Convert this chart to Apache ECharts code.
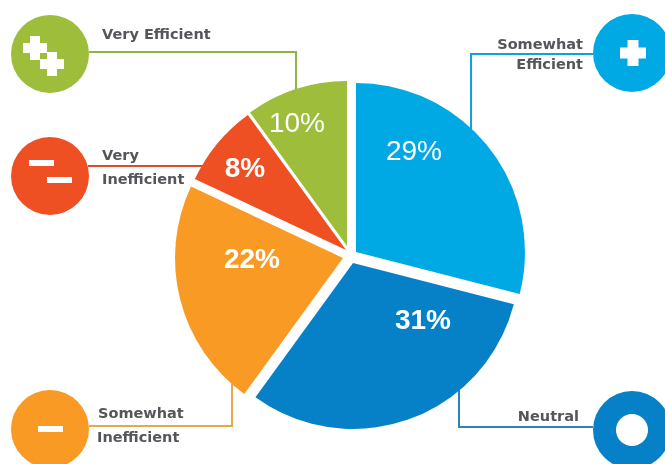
<!DOCTYPE html>
<html>
<head>
<meta charset="utf-8">
<style>html,body{margin:0;padding:0;background:#fff}#chart{width:665px;height:464px}</style>
<script src="https://cdn.jsdelivr.net/npm/echarts@6/dist/echarts.min.js"></script>
</head>
<body>
<div id="chart"></div>
<script>
// Efficiency ratings, clockwise from twelve o'clock
const categories = ['Somewhat Efficient', 'Neutral', 'Somewhat Inefficient', 'Very Inefficient', 'Very Efficient'];
const shares = [29, 31, 22, 8, 10];
const sliceColors = ['#00A9E4', '#0681C8', '#F89A24', '#EE4F23', '#9DBD3B'];

// Each wedge is pulled slightly away from the middle of the pie
const wedgeCenters = [[356, 252], [353, 263], [343, 258], [346, 250], [347, 246]];
const wedgeRadii = [169, 166, 168, 167, 165];
const valueLabelSpots = [[414, 152], [423, 321], [252, 260], [245, 169], [297, 124]];
const valueLabelWeights = ['normal', 'bold', 'bold', 'bold', 'normal'];

const textFont = '"DejaVu Sans", sans-serif';
const inkColor = '#55565A';

function badge(cx, cy, color) {
  return { type: 'circle', shape: { cx, cy, r: 39 }, style: { fill: color } };
}
function bar(x, y, width, height) {
  return { type: 'rect', shape: { x, y, width, height }, style: { fill: '#fff' } };
}
function plus(cx, cy, size, arm) {
  return [
    bar(cx - size / 2, cy - arm / 2, size, arm),
    bar(cx - arm / 2, cy - size / 2, arm, size)
  ];
}
function leader(points, color) {
  return {
    type: 'polyline',
    shape: { points },
    style: { stroke: color, lineWidth: 2, fill: null }
  };
}
function caption(text, x, y, align) {
  return {
    type: 'text',
    z: 5,
    style: {
      text, x, y, align: align || 'left', verticalAlign: 'middle',
      font: 'bold 14.5px ' + textFont, fill: inkColor
    }
  };
}

const annotations = [
  leader([[89, 52], [296, 52], [296, 95]], '#8DB644'),
  leader([[88, 166], [212, 166]], '#DD4A2C'),
  leader([[89, 426], [232, 426], [232, 376]], '#E5A84A'),
  leader([[593, 54], [471, 54], [471, 134]], '#12A0D8'),
  leader([[593, 427], [459, 427], [459, 385]], '#2A85B8'),

  badge(50, 54, sliceColors[4]),
  ...plus(35, 48, 24, 10),
  ...plus(52, 64, 24, 10),

  badge(50, 176, sliceColors[3]),
  bar(29, 160, 25, 6),
  bar(47, 177, 25, 6),

  badge(50, 429, sliceColors[2]),
  bar(38, 426, 25, 6),

  badge(632, 53, sliceColors[0]),
  ...plus(633, 53, 26, 11),

  badge(632, 430, sliceColors[1]),
  { type: 'circle', shape: { cx: 632, cy: 430, r: 16 }, style: { fill: '#fff' } },

  caption('Very Efficient', 102, 35),
  caption('Very', 102, 156),
  caption('Inefficient', 102, 180),
  caption('Somewhat', 583, 45, 'right'),
  caption('Efficient', 583, 65, 'right'),
  caption('Somewhat', 98, 414),
  caption('Inefficient', 97, 438),
  caption('Neutral', 579, 417, 'right')
];

// One pie per wedge: the wedge itself plus an invisible remainder, started
// where the previous wedge ended.
const total = shares.reduce((sum, v) => sum + v, 0);
let elapsed = 0;
const wedgeSeries = categories.map((name, i) => {
  const startAngle = 90 - (elapsed / total) * 360;
  elapsed += shares[i];
  return {
    type: 'pie',
    center: wedgeCenters[i],
    radius: [0, wedgeRadii[i]],
    startAngle,
    avoidLabelOverlap: false,
    silent: true,
    z: 2,
    labelLine: { show: false },
    labelLayout: function () {
      const spot = valueLabelSpots[i];
      return { x: spot[0], y: spot[1], align: 'center', verticalAlign: 'middle' };
    },
    data: [
      {
        name,
        value: shares[i],
        itemStyle: { color: sliceColors[i] },
        label: {
          show: true,
          position: 'inside',
          formatter: '{c}%',
          color: '#fff',
          fontFamily: '"Liberation Sans", Arial, sans-serif',
          fontSize: 28,
          fontWeight: valueLabelWeights[i]
        }
      },
      {
        name: 'rest',
        value: total - shares[i],
        itemStyle: { color: 'transparent' },
        label: { show: false }
      }
    ]
  };
});

const chart = echarts.init(document.getElementById('chart'), null, { renderer: 'canvas' });
chart.setOption({
  animation: false,
  backgroundColor: '#fff',
  graphic: { elements: annotations },
  series: wedgeSeries
});
</script>
</body>
</html>
